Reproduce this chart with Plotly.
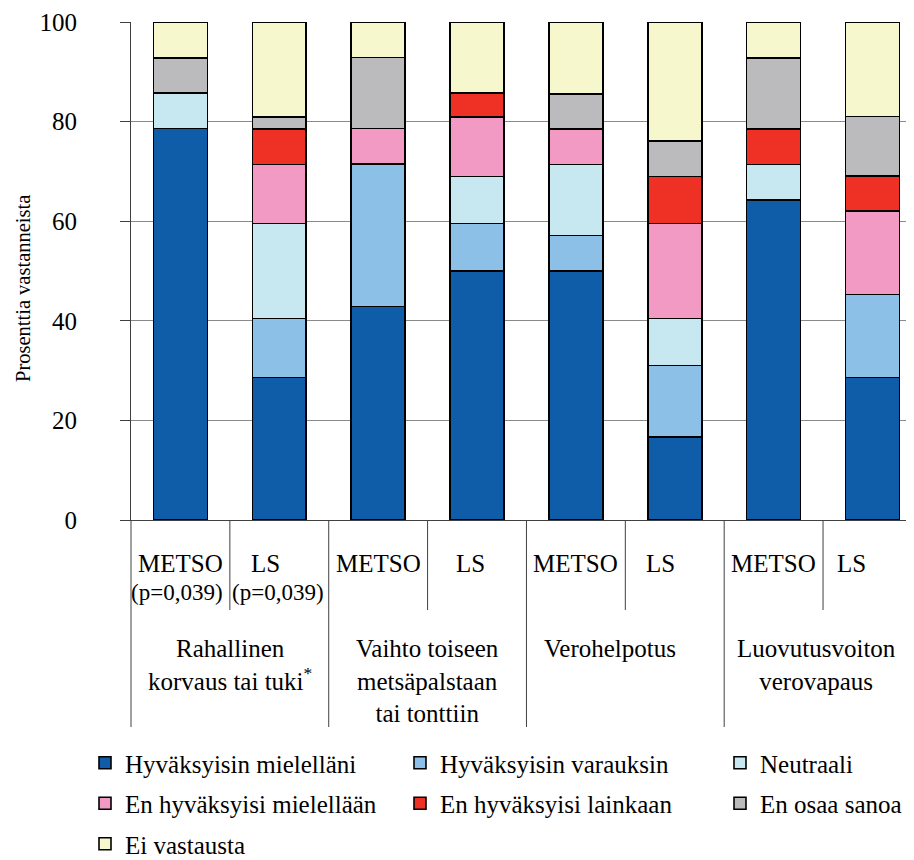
import plotly.graph_objects as go

# ---------------- data ----------------
group_labels = [
    "Rahallinen<br>korvaus tai tuki<sup>*</sup>",
    "Vaihto toiseen<br>metsäpalstaan<br>tai tonttiin",
    "Verohelpotus",
    "Luovutusvoiton<br>verovapaus",
]
bar_labels = ["METSO", "LS", "METSO", "LS", "METSO", "LS", "METSO", "LS"]
bar_notes = ["(p=0,039)", "(p=0,039)", "", "", "", "", "", ""]

series_names = [
    "Hyväksyisin mielelläni",
    "Hyväksyisin varauksin",
    "Neutraali",
    "En hyväksyisi mielellään",
    "En hyväksyisi lainkaan",
    "En osaa sanoa",
    "Ei vastausta",
]
hyvaksyisin_mielellani = [78.6, 28.6, 42.9, 50.0, 50.0, 16.7, 64.3, 28.6]
hyvaksyisin_varauksin = [0.0, 11.9, 28.6, 9.5, 7.1, 14.3, 0.0, 16.7]
neutraali = [7.1, 19.0, 0.0, 9.5, 14.3, 9.5, 7.1, 0.0]
en_hyvaksyisi_mielellaan = [0.0, 11.9, 7.1, 11.9, 7.1, 19.0, 0.0, 16.7]
en_hyvaksyisi_lainkaan = [0.0, 7.1, 0.0, 4.8, 0.0, 9.5, 7.1, 7.1]
en_osaa_sanoa = [7.1, 2.4, 14.3, 0.0, 7.1, 7.1, 14.3, 11.9]
ei_vastausta = [7.1, 19.0, 7.1, 14.3, 14.3, 23.8, 7.1, 19.0]

series_values = [hyvaksyisin_mielellani, hyvaksyisin_varauksin, neutraali,
                 en_hyvaksyisi_mielellaan, en_hyvaksyisi_lainkaan,
                 en_osaa_sanoa, ei_vastausta]

y_ticks = [0, 20, 40, 60, 80, 100]
y_title = "Prosenttia vastanneista"

# ---------------- style ----------------
colors = ["#0F5DA8", "#8DC0E7", "#C8E8F1", "#F29AC3", "#EE3124", "#BBBBBD", "#F7F7CD"]
FONT = "Liberation Serif"
FS = 25
PAGE_OFF = 8                      # default body margin of the html page
SCREEN_W, SCREEN_H = 914, 860
PLOT_L, PLOT_T, PLOT_R, PLOT_B = 131, 22, 914, 520   # plot area in screen px
W, H = SCREEN_W - PAGE_OFF, SCREEN_H - PAGE_OFF
ML, MT = PLOT_L - PAGE_OFF, PLOT_T - PAGE_OFF
plot_w = PLOT_R - PLOT_L
plot_h = PLOT_B - PLOT_T
MR = W - ML - plot_w
MB = H - MT - plot_h
x_range = [-0.5, 7.42]
label_nudge = [0, -14, 0, -7, 0, -14, 0, -21]
note_nudge = [-3, -1, 0, 0, 0, 0, 0, 0]
group_nudge = [0, 0, -15, -7]
legend_keys = ["legend", "legend2", "legend3"]

x_pos = list(range(len(bar_labels)))

fig = go.Figure()
for i, (name, vals, col) in enumerate(zip(series_names, series_values, colors)):
    fig.add_trace(go.Bar(
        x=x_pos, y=vals, name=name,
        marker=dict(color=col, line=dict(color="black", width=1.6)),
        width=0.546,
        legend=legend_keys[i % 3],
        legendgroup=name,
        hovertemplate="%{y}%<extra>" + name + "</extra>",
    ))


def px_to_paper_y(sy):
    return (PLOT_B - sy) / plot_h


def px_to_paper_x(sx):
    return (sx - PLOT_L) / plot_w


def data_to_paper_x(v):
    return (v - x_range[0]) / (x_range[1] - x_range[0])


shapes = []
for i in range(len(bar_labels)):
    b = i - 0.5
    long_line = (i % 2 == 0)
    shapes.append(dict(
        type="line", xref="paper", yref="paper",
        x0=data_to_paper_x(b), x1=data_to_paper_x(b),
        y0=0, y1=px_to_paper_y(727 if long_line else 610),
        line=dict(color="#404040", width=1),
    ))

annotations = []
for i, lab in enumerate(bar_labels):
    annotations.append(dict(
        x=x_pos[i], xref="x", y=px_to_paper_y(563), yref="paper",
        text=lab, showarrow=False, xanchor="center", yanchor="middle",
        xshift=label_nudge[i],
        font=dict(family=FONT, size=FS, color="black"),
    ))
    if bar_notes[i]:
        annotations.append(dict(
            x=x_pos[i], xref="x", y=px_to_paper_y(592), yref="paper",
            text=bar_notes[i], showarrow=False, xanchor="center", yanchor="middle",
            xshift=note_nudge[i],
            font=dict(family=FONT, size=FS - 2, color="black"),
        ))
for g, lab in enumerate(group_labels):
    annotations.append(dict(
        x=(x_pos[2 * g] + x_pos[2 * g + 1]) / 2, xref="x",
        y=px_to_paper_y(633), yref="paper",
        text=lab, showarrow=False, xanchor="center", yanchor="top",
        xshift=group_nudge[g], align="center",
        font=dict(family=FONT, size=FS, color="black"),
    ))
annotations.append(dict(
    x=px_to_paper_x(23), xref="paper", y=px_to_paper_y(289), yref="paper",
    text=y_title, textangle=-90, showarrow=False,
    xanchor="center", yanchor="middle",
    font=dict(family=FONT, size=20.5, color="black"),
))

legend_common = dict(
    orientation="v", xanchor="left", yanchor="top",
    bgcolor="rgba(0,0,0,0)", borderwidth=0,
    font=dict(family=FONT, size=FS, color="black"),
    tracegroupgap=5, traceorder="grouped",
)
legend_x_px = [85, 400, 720]
legend_top_px = 740

fig.update_layout(
    width=W, height=H,
    margin=dict(l=ML, r=MR, t=MT, b=MB, autoexpand=False),
    paper_bgcolor="white", plot_bgcolor="white",
    barmode="stack",
    font=dict(family=FONT, size=FS, color="black"),
    xaxis=dict(range=x_range, showticklabels=False, ticks="",
               showgrid=False, zeroline=False, showline=True,
               linecolor="#404040", linewidth=1),
    yaxis=dict(range=[0, 100], tickvals=y_ticks, showgrid=True,
               gridcolor="#8a8a8a", gridwidth=1, zeroline=False,
               showline=True, linecolor="#404040", linewidth=1,
               ticks="outside", ticklen=10, tickcolor="#404040",
               ticklabelstandoff=38,
               tickfont=dict(family=FONT, size=FS, color="black")),
    shapes=shapes,
    annotations=annotations,
    legend=dict(x=px_to_paper_x(legend_x_px[0]), y=px_to_paper_y(legend_top_px), **legend_common),
    legend2=dict(x=px_to_paper_x(legend_x_px[1]), y=px_to_paper_y(legend_top_px), **legend_common),
    legend3=dict(x=px_to_paper_x(legend_x_px[2]), y=px_to_paper_y(legend_top_px), **legend_common),
    showlegend=True,
)

fig.write_html("out.html")
